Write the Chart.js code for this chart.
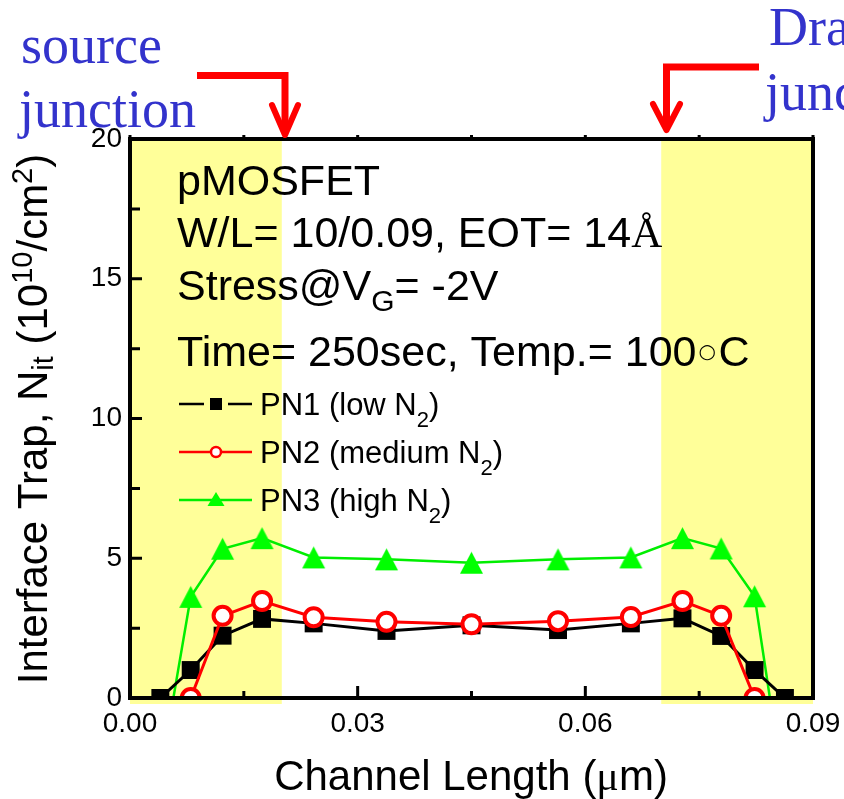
<!DOCTYPE html>
<html>
<head>
<meta charset="utf-8">
<script src="https://cdn.jsdelivr.net/npm/chart.js@4.4.0/dist/chart.umd.min.js"></script>
<style>
    html, body { margin: 0; padding: 0; background: #ffffff; }
    #wrap { width: 844px; height: 799px; }
</style>
</head>
<body>
<div id="wrap"><canvas id="Chart" width="844" height="799"></canvas></div>
<script>
// axis ticks
const xTickValues = [0, 0.03, 0.06, 0.09];
const xMinorValues = [0.015, 0.045, 0.075];
const yTickValues = [0, 5, 10, 15, 20];
const yMinorValues = [2.5, 7.5, 12.5, 17.5];

// shaded junction regions (um)
const sourceJunction = [0, 0.02];
const drainJunction = [0.07, 0.09];

// PN1 (low N2)
const posPN1 = [0.004, 0.008, 0.0122, 0.0174, 0.0242, 0.0338, 0.045, 0.0564, 0.066, 0.0728, 0.0779, 0.0823, 0.0863];
const nitPN1 = [0, 1.0, 2.23, 2.83, 2.67, 2.4, 2.6, 2.43, 2.67, 2.85, 2.22, 1.0, 0];

// PN2 (medium N2)
const posPN2 = [0.008, 0.0122, 0.0174, 0.0242, 0.0338, 0.045, 0.0564, 0.066, 0.0728, 0.0779, 0.0823];
const nitPN2 = [0, 2.94, 3.47, 2.89, 2.73, 2.64, 2.75, 2.9, 3.47, 2.94, 0];

// PN3 (high N2)
const posPN3 = [0.0054, 0.008, 0.0122, 0.0174, 0.0242, 0.0338, 0.045, 0.0564, 0.066, 0.0728, 0.0779, 0.0823, 0.0846];
const nitPN3 = [-0.5, 3.62, 5.34, 5.72, 5.03, 4.96, 4.84, 4.96, 5.03, 5.72, 5.35, 3.64, -0.5];

const SANS = '"Liberation Sans", Arial, sans-serif';
const SERIF = '"Liberation Serif", "Times New Roman", serif';
const BLUE = '#3333cc';
const YELLOW = '#ffff99';

function toPoints(xs, ys) {
    return xs.map((x, i) => ({x: x, y: ys[i]}));
}

function makeTriangle(w, h) {
    const c = document.createElement('canvas');
    c.width = w + 2;
    c.height = h + 2;
    const g = c.getContext('2d');
    g.fillStyle = '#00ff00';
    g.beginPath();
    g.moveTo(c.width / 2, 1);
    g.lineTo(w + 1, h + 1);
    g.lineTo(1, h + 1);
    g.closePath();
    g.fill();
    return c;
}
const triangleBig = makeTriangle(23, 22);

// draws a row of text pieces, each with its own font / offset
function drawRuns(ctx, x, y, runs, align) {
    ctx.textAlign = 'left';
    ctx.textBaseline = 'alphabetic';
    const widths = runs.map(r => {
        ctx.font = r.font;
        const m = ctx.measureText(r.text);
        if (r.tight) {
            r.ox = r.tight + m.actualBoundingBoxLeft;
            return m.actualBoundingBoxLeft + m.actualBoundingBoxRight + 2 * r.tight;
        }
        r.ox = 0;
        return m.width;
    });
    const total = widths.reduce((a, b) => a + b, 0);
    let cx = align === 'center' ? x - total / 2 : x;
    runs.forEach((r, i) => {
        ctx.font = r.font;
        ctx.fillStyle = r.color || '#000';
        ctx.fillText(r.text, cx + r.ox, y + (r.dy || 0));
        cx += widths[i];
    });
}

const decorPlugin = {
    id: 'decor',
    beforeDatasetsDraw(chart) {
        const ctx = chart.ctx, a = chart.chartArea, xs = chart.scales.x;
        ctx.save();
        ctx.fillStyle = YELLOW;
        [sourceJunction, drainJunction].forEach(j => {
            const x0 = xs.getPixelForValue(j[0]), x1 = xs.getPixelForValue(j[1]);
            ctx.fillRect(x0, a.top + 2, x1 - x0, a.bottom - a.top + 4);
        });
        ctx.restore();
    },
    afterDatasetsDraw(chart) {
        const ctx = chart.ctx, a = chart.chartArea;
        const xs = chart.scales.x, ys = chart.scales.y;
        ctx.save();
        ctx.strokeStyle = '#000';
        ctx.lineWidth = 3;
        ctx.beginPath();
        xTickValues.concat(xMinorValues).forEach(v => {
            const p = xs.getPixelForValue(v);
            const len = xTickValues.includes(v) ? 12 : 7;
            ctx.moveTo(p, a.bottom);
            ctx.lineTo(p, a.bottom - len);
            ctx.moveTo(p, a.top);
            ctx.lineTo(p, a.top - 4);
        });
        yTickValues.concat(yMinorValues).forEach(v => {
            const p = ys.getPixelForValue(v);
            const len = yTickValues.includes(v) ? 12 : 10;
            ctx.moveTo(a.left, p);
            ctx.lineTo(a.left + len, p);
        });
        ctx.stroke();
        ctx.lineWidth = 4;
        ctx.strokeRect(a.left, a.top, a.right - a.left, a.bottom - a.top);
        ctx.restore();
    },
    afterDraw(chart) {
        const ctx = chart.ctx;
        ctx.save();

        // axis titles
        drawRuns(ctx, 471, 790, [
            {text: 'Channel Length (', font: '42px ' + SANS},
            {text: 'μ', font: '42px ' + SERIF},
            {text: 'm)', font: '42px ' + SANS}
        ], 'center');

        ctx.save();
        ctx.translate(47, 419);
        ctx.rotate(-Math.PI / 2);
        drawRuns(ctx, 0, 0, [
            {text: 'Interface Trap, N', font: '42px ' + SANS},
            {text: 'it', font: '29px ' + SANS, dy: 6},
            {text: ' (10', font: '42px ' + SANS},
            {text: '10', font: '29px ' + SANS, dy: -15},
            {text: '/cm', font: '42px ' + SANS},
            {text: '2', font: '29px ' + SANS, dy: -15},
            {text: ')', font: '42px ' + SANS}
        ], 'center');
        ctx.restore();

        // device info
        const F = '43px ' + SANS;
        drawRuns(ctx, 177, 195, [{text: 'pMOSFET', font: F}]);
        drawRuns(ctx, 177, 247, [
            {text: 'W/L= 10/0.09, EOT= 14', font: F},
            {text: 'Å', font: '43px ' + SERIF}
        ]);
        drawRuns(ctx, 177, 300, [
            {text: 'Stress@V', font: F},
            {text: 'G', font: '30px ' + SANS, dy: 11},
            {text: '= -2V', font: F}
        ]);
        drawRuns(ctx, 177, 366, [
            {text: 'Time= 250sec, Temp.= 100', font: F},
            {text: '○', font: '20px "DejaVu Sans"', tight: 3, dy: -8},
            {text: 'C', font: F}
        ]);

        // legend
        const rows = [
            {y: 404, color: '#000000', name: 'PN1 (low N'},
            {y: 452, color: '#ff0000', name: 'PN2 (medium N'},
            {y: 500, color: '#00ee00', name: 'PN3 (high N'}
        ];
        rows.forEach((r, i) => {
            ctx.strokeStyle = r.color;
            ctx.lineWidth = 2.5;
            ctx.beginPath();
            ctx.moveTo(179, r.y); ctx.lineTo(204, r.y);
            ctx.moveTo(228, r.y); ctx.lineTo(252, r.y);
            ctx.stroke();
            if (i === 0) {
                ctx.fillStyle = '#000';
                ctx.fillRect(210, r.y - 6, 12, 12);
            } else if (i === 1) {
                ctx.beginPath();
                ctx.moveTo(204, r.y); ctx.lineTo(228, r.y);
                ctx.stroke();
                ctx.fillStyle = '#fff';
                ctx.beginPath();
                ctx.arc(216, r.y, 5, 0, Math.PI * 2);
                ctx.fill();
                ctx.lineWidth = 2.5;
                ctx.stroke();
            } else {
                ctx.beginPath();
                ctx.moveTo(204, r.y); ctx.lineTo(228, r.y);
                ctx.stroke();
                ctx.fillStyle = '#00ff00';
                ctx.beginPath();
                ctx.moveTo(216, r.y - 8);
                ctx.lineTo(224.5, r.y + 6);
                ctx.lineTo(207.5, r.y + 6);
                ctx.closePath();
                ctx.fill();
            }
            drawRuns(ctx, 260, r.y + 11, [
                {text: r.name, font: '31px ' + SANS},
                {text: '2', font: '22px ' + SANS, dy: 12},
                {text: ')', font: '31px ' + SANS}
            ]);
        });

        // junction labels
        drawRuns(ctx, 21, 63, [{text: 'source', font: '54px ' + SERIF, color: BLUE}]);
        drawRuns(ctx, 19, 127, [{text: 'junction', font: '54px ' + SERIF, color: BLUE}]);
        drawRuns(ctx, 769, 45, [{text: 'Drain', font: '54px ' + SERIF, color: BLUE}]);
        drawRuns(ctx, 765, 110, [{text: 'junction', font: '54px ' + SERIF, color: BLUE}]);

        // arrows
        ctx.strokeStyle = '#ff0000';
        ctx.lineWidth = 7;
        ctx.lineCap = 'butt';
        ctx.beginPath();
        ctx.moveTo(197, 75.5); ctx.lineTo(288.5, 75.5);
        ctx.moveTo(285, 72); ctx.lineTo(285, 132);
        ctx.moveTo(759, 67); ctx.lineTo(663, 67);
        ctx.moveTo(666.5, 64); ctx.lineTo(666.5, 126);
        ctx.stroke();
        ctx.lineCap = 'round';
        ctx.lineJoin = 'round';
        ctx.lineWidth = 6;
        ctx.beginPath();
        ctx.moveTo(272, 105); ctx.lineTo(285, 135); ctx.lineTo(298, 105);
        ctx.moveTo(653, 104); ctx.lineTo(666.5, 130); ctx.lineTo(680, 104);
        ctx.stroke();

        ctx.restore();
    }
};

const chartData = {
    datasets: [
        {
            label: 'PN2 (medium N2)',
            data: toPoints(posPN2, nitPN2),
            borderColor: '#ff0000',
            borderWidth: 3,
            pointStyle: 'circle',
            pointRadius: 9,
            pointBorderWidth: 4,
            pointBackgroundColor: '#ffffff',
            pointBorderColor: '#ff0000',
            clip: 0,
            order: 0
        },
        {
            label: 'PN1 (low N2)',
            data: toPoints(posPN1, nitPN1),
            borderColor: '#000000',
            borderWidth: 3,
            pointStyle: 'rect',
            pointRadius: 12.7,
            pointBorderWidth: 0,
            pointBackgroundColor: '#000000',
            clip: 0,
            order: 1
        },
        {
            label: 'PN3 (high N2)',
            data: toPoints(posPN3, nitPN3),
            borderColor: '#00ee00',
            borderWidth: 2.5,
            pointStyle: triangleBig,
            pointRadius: 11,
            clip: 0,
            order: 2
        }
    ]
};

let chartElement = document.getElementById('Chart').getContext('2d');
let chart = new Chart(chartElement, {
    type: 'line',
    data: chartData,
    plugins: [decorPlugin],
    options: {
        animation: false,
        responsive: false,
        maintainAspectRatio: false,
        layout: {
            padding: {left: 0, right: 31, top: 139, bottom: 0}
        },
        plugins: {
            legend: {display: false},
            title: {display: false},
            tooltip: {enabled: false}
        },
        elements: {
            line: {tension: 0}
        },
        scales: {
            x: {
                type: 'linear',
                min: 0,
                max: 0.09,
                grid: {display: false, drawTicks: false},
                border: {display: false},
                afterBuildTicks: s => { s.ticks = xTickValues.map(v => ({value: v})); },
                afterFit: s => { s.height = 101; s.paddingLeft = 0; s.paddingRight = 0; },
                ticks: {
                    autoSkip: false,
                    maxRotation: 0,
                    padding: 9,
                    color: '#000',
                    font: {family: SANS, size: 28},
                    callback: v => v.toFixed(2)
                }
            },
            y: {
                type: 'linear',
                min: 0,
                max: 20,
                grid: {display: false, drawTicks: false},
                border: {display: false},
                afterBuildTicks: s => { s.ticks = yTickValues.map(v => ({value: v})); },
                afterFit: s => { s.width = 130; s.paddingTop = 0; s.paddingBottom = 0; },
                ticks: {
                    padding: 8,
                    color: '#000',
                    font: {family: SANS, size: 28},
                    callback: v => String(v)
                }
            }
        }
    }
});
</script>
</body>
</html>
